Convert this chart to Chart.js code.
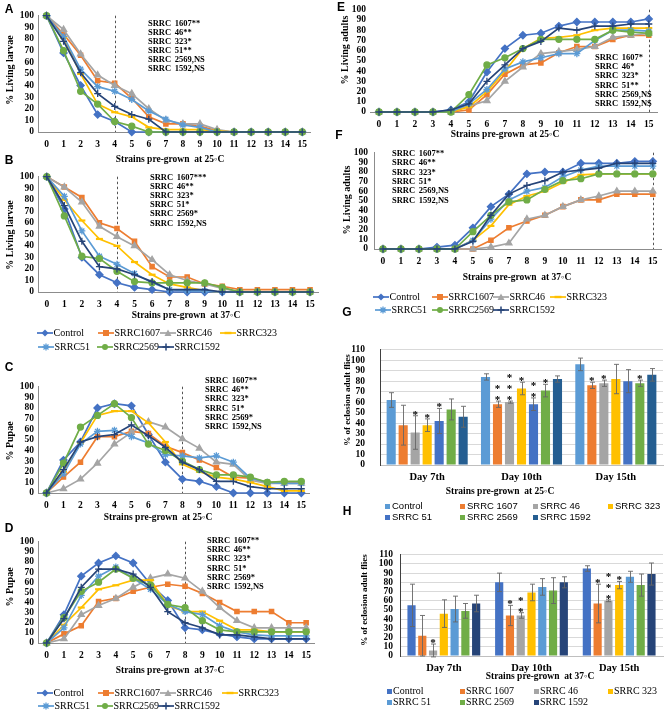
<!DOCTYPE html>
<html><head><meta charset="utf-8">
<script src="https://cdn.jsdelivr.net/npm/chart.js@4.4.1/dist/chart.umd.min.js"></script>
<style>
html,body{margin:0;padding:0;background:#fff;}
body{position:relative;width:669px;height:717px;overflow:hidden;}
</style></head>
<body>
<script>
// ---------------- DATA ----------------
const days = ['0','1','2','3','4','5','6','7','8','9','10','11','12','13','14','15'];
const lineNames = ['Control','SRRC1607','SRRC46','SRRC323','SRRC51','SRRC2569','SRRC1592'];
const barNames = ['Control','SRRC 1607','SRRC 46','SRRC 323','SRRC 51','SRRC 2569','SRRC 1592'];
const barDays = ['Day 7th','Day 10th','Day 15th'];

// A: % living larvae, strains pre-grown at 25C
const A_Control  = [100,68,40,15,9,0,0,0,0,0,0,0,0,0,0,0];
const A_SRRC1607 = [100,84,66,44,42,29,13,7,7,5,1,0,0,0,0,0];
const A_SRRC46   = [100,88,67,49,40,33,20,10,7,7,2,0,0,0,0,0];
const A_SRRC323  = [100,81,50,24,17,13,4,2,2,2,1,0,0,0,0,0];
const A_SRRC51   = [100,82,54,39,35,28,18,11,6,4,0,0,0,0,0,0];
const A_SRRC2569 = [100,70,35,24,9,5,0,0,0,0,0,0,0,0,0,0];
const A_SRRC1592 = [100,78,51,33,22,15,11,0,0,0,0,0,0,0,0,0];
const A_notes = ['SRRC 1607**','SRRC 46**','SRRC 323*','SRRC 51**','SRRC 2569,NS','SRRC 1592,NS'];

// B: % living larvae, 37C
const B_Control  = [100,72,30,15,8,4,2,0,0,0,0,0,0,0,0,0];
const B_SRRC1607 = [100,91,82,60,55,44,22,13,13,7,5,2,2,2,2,2];
const B_SRRC46   = [100,91,78,57,48,40,28,15,10,7,3,0,0,0,0,0];
const B_SRRC323  = [100,80,62,46,40,26,15,7,4,1,0,0,0,0,0,0];
const B_SRRC51   = [100,83,53,31,24,16,8,2,1,1,0,0,0,0,0,0];
const B_SRRC2569 = [100,66,31,29,18,9,8,8,8,8,4,0,0,0,0,0];
const B_SRRC1592 = [100,75,44,22,20,15,9,2,2,2,0,0,0,0,0,0];
const B_notes = ['SRRC 1607***','SRRC 46**','SRRC 323*','SRRC 51*','SRRC 2569*','SRRC 1592,NS'];

// C: % pupae, 25C
const C_Control  = [0,31,48,80,84,82,55,29,13,11,6,0,0,0,0,0];
const C_SRRC1607 = [0,15,29,53,53,58,56,44,38,31,24,15,14,10,10,10];
const C_SRRC46   = [0,4,13,28,46,57,67,62,51,42,29,27,12,9,9,9];
const C_SRRC323  = [0,20,47,73,77,77,66,48,27,20,15,13,10,6,2,2];
const C_SRRC51   = [0,18,46,58,59,53,47,36,35,33,35,29,14,10,9,9];
const C_SRRC2569 = [0,28,62,73,84,71,46,40,30,22,17,17,15,10,11,11];
const C_SRRC1592 = [0,22,48,53,55,64,54,43,29,22,11,11,6,4,4,4];
const C_notes = ['SRRC 1607**','SRRC 46**','SRRC 323*','SRRC 51*','SRRC 2569*','SRRC 1592,NS'];

// D: % pupae, 37C
const D_Control  = [0,28,66,79,86,79,58,42,15,13,9,6,4,4,4,4];
const D_SRRC1607 = [0,9,17,41,44,51,55,58,56,49,40,31,31,31,20,20];
const D_SRRC46   = [0,4,28,37,44,55,64,68,64,51,35,22,15,15,15,15];
const D_SRRC323  = [0,18,35,53,57,62,62,37,31,31,22,13,13,11,11,11];
const D_SRRC51   = [0,15,47,66,75,64,53,38,31,28,17,11,8,7,7,7];
const D_SRRC2569 = [0,25,51,60,73,64,57,38,35,22,13,11,11,11,11,11];
const D_SRRC1592 = [0,24,55,73,73,68,55,31,20,15,8,8,6,4,4,4];
const D_notes = ['SRRC 1607**','SRRC 46**','SRRC 323*','SRRC 51*','SRRC 2569*','SRRC 1592,NS'];

// E: % living adults, 25C
const E_Control  = [0,0,0,0,2,10,39,62,75,77,84,88,88,88,88,91];
const E_SRRC1607 = [0,0,0,0,0,2,17,37,46,48,58,64,64,71,75,75];
const E_SRRC46   = [0,0,0,0,0,6,11,30,44,57,59,61,64,73,75,77];
const E_SRRC323  = [0,0,0,0,0,5,20,40,62,72,73,75,80,82,82,82];
const E_SRRC51   = [0,0,0,0,0,8,22,42,49,53,57,57,70,80,80,79];
const E_SRRC2569 = [0,0,0,0,0,17,46,53,62,71,71,71,71,80,78,77];
const E_SRRC1592 = [0,0,0,0,2,8,30,46,62,69,82,80,84,84,86,86];
const E_notes = ['SRRC 1607*','SRRC 46*','SRRC 323*','SRRC 51**','SRRC 2569,NS','SRRC 1592,NS'];

// F: % living adults, 37C
const F_Control  = [0,0,0,2,4,22,44,57,78,80,80,89,89,89,91,91];
const F_SRRC1607 = [0,0,0,0,0,0,9,22,29,35,44,51,51,57,57,57];
const F_SRRC46   = [0,0,0,0,0,0,2,6,31,35,44,51,55,60,60,60];
const F_SRRC323  = [0,0,0,0,0,9,24,46,55,60,69,77,78,78,78,78];
const F_SRRC51   = [0,0,0,0,0,9,31,51,60,64,75,82,86,86,86,86];
const F_SRRC2569 = [0,0,0,0,0,18,35,49,51,62,71,73,78,78,78,78];
const F_SRRC1592 = [0,0,0,0,0,8,35,57,66,71,80,82,84,89,89,89];
const F_notes = ['SRRC 1607**','SRRC 46**','SRRC 323*','SRRC 51*','SRRC 2569,NS','SRRC 1592,NS'];

// G: % eclosion adult flies, 25C (order: Control,1607,46,323,51,2569,1592)
const G_day7       = [62,38,31,38,42,53,46];
const G_day7_err   = [7,19,16,6,12,10,10];
const G_day7_star  = [0,0,1,1,1,0,0];
const G_day10      = [84,58,60,73,58,71,82];
const G_day10_err  = [3,3,1,6,6,6,3];
const G_day10_star = [0,2,3,1,2,1,0];
const G_day15      = [96,76,78,82,80,78,86];
const G_day15_err  = [6,3,3,14,11,3,6];
const G_day15_star = [0,1,1,0,0,1,0];

// H: % eclosion adult flies, 37C
const H_day7       = [55,22,6,46,51,49,57];
const H_day7_err   = [23,22,7,15,14,8,9];
const H_day7_star  = [0,0,1,0,0,0,0];
const H_day10      = [80,44,44,69,75,71,80];
const H_day10_err  = [10,11,3,9,9,14,6];
const H_day10_star = [0,1,2,0,0,0,0];
const H_day15      = [95,57,60,77,86,77,89];
const H_day15_err  = [3,21,1,4,6,12,12];
const H_day15_star = [0,1,3,1,0,0,0];

// ---------------- STYLE ----------------
const SERIF = "'Liberation Serif','Times New Roman',serif";
const SANS = "'Liberation Sans',Arial,sans-serif";
const lineColors = ['#4472C4','#ED7D31','#A5A5A5','#FFC000','#5B9BD5','#70AD47','#264478'];
const lineStyles = ['rectRot','rect','triangle','line','star','circle','cross'];
const lineRadius = [3.5,3,3.5,3.5,3.5,3,3.5];
const gColors = ['#5B9BD5','#ED7D31','#A5A5A5','#FFC000','#4472C4','#70AD47','#255E91'];
const hColors = ['#4472C4','#ED7D31','#A5A5A5','#FFC000','#5B9BD5','#70AD47','#264478'];

Chart.defaults.font.family = SERIF;
Chart.defaults.color = '#000';

const vlinePlugin = {
  id: 'vline',
  beforeDatasetsDraw(chart, args, opts) {
    if (opts.x == null) return;
    const x = chart.scales.x.getPixelForValue(opts.x);
    const ca = chart.chartArea, ctx = chart.ctx;
    ctx.save();
    ctx.strokeStyle = '#555'; ctx.lineWidth = 1; ctx.setLineDash([2.5,2.5]);
    ctx.beginPath(); ctx.moveTo(Math.round(x)+0.5, ca.top); ctx.lineTo(Math.round(x)+0.5, ca.bottom); ctx.stroke();
    ctx.restore();
  }
};
const errPlugin = {
  id: 'errbars',
  afterDatasetsDraw(chart, args, opts) {
    if (!opts.on) return;
    const ctx = chart.ctx, ys = chart.scales.y;
    ctx.save();
    chart.data.datasets.forEach((ds, di) => {
      const meta = chart.getDatasetMeta(di);
      meta.data.forEach((bar, j) => {
        const v = ds.data[j], e = ds.err[j];
        const yt = ys.getPixelForValue(v + e), yb = ys.getPixelForValue(v - e);
        const x = Math.round(bar.x) + 0.5;
        ctx.strokeStyle = '#666'; ctx.lineWidth = 0.9; ctx.setLineDash([]);
        ctx.beginPath();
        ctx.moveTo(x, yt); ctx.lineTo(x, yb);
        ctx.moveTo(x - 2.5, yt); ctx.lineTo(x + 2.5, yt);
        ctx.moveTo(x - 2.5, yb); ctx.lineTo(x + 2.5, yb);
        ctx.stroke();
        const n = ds.stars[j];
        ctx.fillStyle = '#000';
        ctx.font = 'bold 11px ' + SERIF;
        ctx.textAlign = 'center'; ctx.textBaseline = 'middle';
        for (let k = 0; k < n; k++) {
          ctx.fillText('*', bar.x, yt - 1 - k * 11);
        }
      });
    });
    ctx.restore();
  }
};
Chart.register(vlinePlugin, errPlugin);

function addCanvas(area, yW, xH) {
  const pl = 2, pt = Math.min(8, area.T), pr = 6, pb = 2;
  const left = area.L - yW - pl, top = area.T - pt;
  const w = area.R + pr - left, h = area.B + xH + pb - top;
  const c = document.createElement('canvas');
  c.width = w; c.height = h;
  c.style.cssText = `position:absolute;left:${left}px;top:${top}px;width:${w}px;height:${h}px;`;
  document.body.appendChild(c);
  return {c, padding: {left: pl, top: pt, right: pr, bottom: pb}};
}

function lineChart(area, series, vx, opt = {}) {
  const yW = 30, xH = 22;
  const {c, padding} = addCanvas(area, yW, xH);
  const tickFont = {family: SERIF, size: 9.5, weight: 'bold'};
  new Chart(c, {
    type: 'line',
    data: {
      labels: days,
      datasets: series.map((d, i) => ({
        label: lineNames[i], data: d,
        borderColor: lineColors[i], backgroundColor: lineColors[i],
        pointBackgroundColor: lineColors[i], pointBorderColor: lineColors[i],
        borderWidth: 1.7, pointStyle: lineStyles[i], pointRadius: lineRadius[i],
        pointBorderWidth: (i === 3 ? 2.2 : 1.3), tension: 0, order: 10 - i, clip: false
      }))
    },
    options: {
      responsive: false, animation: false, events: [],
      layout: {padding},
      plugins: {legend: {display: false}, tooltip: {enabled: false}, vline: {x: vx}, errbars: {on: false}},
      scales: {
        x: {offset: true, grid: {display: false, drawTicks: false},
            border: {display: true, color: '#8c8c8c', width: 1},
            ticks: {font: tickFont, color: '#000', padding: 7, maxRotation: 0, autoSkip: false},
            afterFit(s) { s.height = xH; }},
        y: {min: 0, max: 100, grid: {display: false, drawTicks: false},
            border: {display: opt.noY ? false : true, color: '#8c8c8c', width: 1},
            ticks: {stepSize: 10, autoSkip: false, font: tickFont, color: '#000', padding: opt.yPad || 4},
            afterFit(s) { s.width = yW; }}
      }
    }
  });
}

function barChart(area, days7, days10, days15, errs, stars, colors, yPad, catPct) {
  const yW = 34, xH = 22;
  const {c, padding} = addCanvas(area, yW, xH);
  const tickFont = {family: SERIF, size: 9.5, weight: 'bold'};
  new Chart(c, {
    type: 'bar',
    data: {
      labels: barDays,
      datasets: barNames.map((n, i) => ({
        label: n, data: [days7[i], days10[i], days15[i]],
        err: [errs[0][i], errs[1][i], errs[2][i]],
        stars: [stars[0][i], stars[1][i], stars[2][i]],
        backgroundColor: colors[i], borderWidth: 0,
        categoryPercentage: catPct, barPercentage: 0.76
      }))
    },
    options: {
      responsive: false, animation: false, events: [],
      layout: {padding},
      plugins: {legend: {display: false}, tooltip: {enabled: false}, vline: {x: null}, errbars: {on: true}},
      scales: {
        x: {grid: {display: false, drawTicks: false},
            border: {display: true, color: '#bfbfbf', width: 1},
            ticks: {font: {family: SERIF, size: 10.5, weight: 'bold'}, color: '#000', padding: 6, maxRotation: 0},
            afterFit(s) { s.height = xH; }},
        y: {min: 0, max: 110, grid: {color: '#d9d9d9', drawTicks: false},
            border: {display: true, color: '#404040', width: 1},
            ticks: {stepSize: 10, autoSkip: false, font: tickFont, color: '#000', padding: yPad},
            afterFit(s) { s.width = yW; }}
      }
    }
  });
}

// ---------------- TEXT HELPERS ----------------
function txt(s, x, y, font, t) {
  const d = document.createElement('div');
  d.textContent = s;
  d.style.cssText = `position:absolute;left:${x}px;top:${y}px;font:${font};white-space:pre;line-height:1;color:#000;transform:${t || 'translate(0,-50%)'};`;
  document.body.appendChild(d);
  return d;
}
const C_ = 'translate(-50%,-50%)';
const R_ = 'translate(-50%,-50%) rotate(-90deg)';
function notes(list, x, y0, step) {
  list.forEach((s, i) => txt(s, x, y0 + i * step, `bold 8.5px ${SERIF}`).style.wordSpacing = '1.5px');
}
function markerSVG(i) {
  const col = lineColors[i], st = lineStyles[i];
  let m = '';
  const cx = 8, cy = 5;
  if (st === 'rectRot') m = `<polygon points="${cx},${cy-3.5} ${cx+3.5},${cy} ${cx},${cy+3.5} ${cx-3.5},${cy}" fill="${col}"/>`;
  else if (st === 'rect') m = `<rect x="${cx-3}" y="${cy-3}" width="6" height="6" fill="${col}"/>`;
  else if (st === 'triangle') m = `<polygon points="${cx},${cy-3.5} ${cx+3.5},${cy+3} ${cx-3.5},${cy+3}" fill="${col}"/>`;
  else if (st === 'line') m = `<line x1="${cx-3.5}" y1="${cy}" x2="${cx+3.5}" y2="${cy}" stroke="${col}" stroke-width="2.4"/>`;
  else if (st === 'star') m = `<path d="M${cx-3.5} ${cy}H${cx+3.5}M${cx} ${cy-3.5}V${cy+3.5}M${cx-2.5} ${cy-2.5}L${cx+2.5} ${cy+2.5}M${cx-2.5} ${cy+2.5}L${cx+2.5} ${cy-2.5}" stroke="${col}" stroke-width="1.3"/>`;
  else if (st === 'circle') m = `<circle cx="${cx}" cy="${cy}" r="3" fill="${col}"/>`;
  else if (st === 'cross') m = `<path d="M${cx-3.5} ${cy}H${cx+3.5}M${cx} ${cy-3.5}V${cy+3.5}" stroke="${col}" stroke-width="1.5"/>`;
  return `<svg width="16" height="10" viewBox="0 0 16 10" style="display:block"><line x1="0" y1="5" x2="16" y2="5" stroke="${col}" stroke-width="1.7"/>${m}</svg>`;
}
function lineLegend(xs, ys) {
  lineNames.forEach((n, i) => {
    const row = i < 4 ? 0 : 1;
    const x = xs[i], y = ys[row];
    const d = document.createElement('div');
    d.innerHTML = markerSVG(i);
    d.style.cssText = `position:absolute;left:${x}px;top:${y - 5}px;width:16px;height:10px;`;
    document.body.appendChild(d);
    txt(n, x + 16.5, y, `10px ${SERIF}`);
  });
}
function barLegend(xs, ys, colors, font, gap) {
  barNames.forEach((n, i) => {
    const row = i < 4 ? 0 : 1;
    const x = xs[i], y = ys[row];
    const d = document.createElement('div');
    d.style.cssText = `position:absolute;left:${x}px;top:${y - 2.5}px;width:5px;height:5px;background:${colors[i]};`;
    document.body.appendChild(d);
    txt(n, x + gap, y, font);
  });
}

// ---------------- BUILD ----------------
const aArea = {L: 38, R: 311, T: 14, B: 132};
const bArea = {L: 38, R: 319, T: 175, B: 292};
const cArea = {L: 38, R: 310, T: 385, B: 493};
const dArea = {L: 38, R: 315, T: 540, B: 643};
const eArea = {L: 370, R: 658, T: 6, B: 112};
const fArea = {L: 374, R: 662, T: 149, B: 249};
const gArea = {L: 380, R: 663, T: 337, B: 465};
const hArea = {L: 400, R: 663, T: 550, B: 656};

lineChart(aArea, [A_Control, A_SRRC1607, A_SRRC46, A_SRRC323, A_SRRC51, A_SRRC2569, A_SRRC1592], 4);
lineChart(bArea, [B_Control, B_SRRC1607, B_SRRC46, B_SRRC323, B_SRRC51, B_SRRC2569, B_SRRC1592], 4);
lineChart(cArea, [C_Control, C_SRRC1607, C_SRRC46, C_SRRC323, C_SRRC51, C_SRRC2569, C_SRRC1592], 8);
lineChart(dArea, [D_Control, D_SRRC1607, D_SRRC46, D_SRRC323, D_SRRC51, D_SRRC2569, D_SRRC1592], 8);
lineChart(eArea, [E_Control, E_SRRC1607, E_SRRC46, E_SRRC323, E_SRRC51, E_SRRC2569, E_SRRC1592], 15, {noY: true});
lineChart(fArea, [F_Control, F_SRRC1607, F_SRRC46, F_SRRC323, F_SRRC51, F_SRRC2569, F_SRRC1592], 15, {yPad: 6});
barChart(gArea, G_day7, G_day10, G_day15, [G_day7_err, G_day10_err, G_day15_err], [G_day7_star, G_day10_star, G_day15_star], gColors, 15, 0.89);
barChart(hArea, H_day7, H_day10, H_day15, [H_day7_err, H_day10_err, H_day15_err], [H_day7_star, H_day10_star, H_day15_star], hColors, 7, 0.86);

// panel letters
const LF = `bold 12px ${SANS}`;
txt('A', 9, 9, LF, C_); txt('B', 9, 160, LF, C_); txt('C', 9, 367, LF, C_); txt('D', 9, 528, LF, C_);
txt('E', 341, 7, LF, C_); txt('F', 339, 135, LF, C_); txt('G', 347, 312, LF, C_); txt('H', 347, 511, LF, C_);

// axis titles
const TF = `bold 10px ${SERIF}`;
const XF = `bold 9.5px ${SERIF}`;
txt('% Living larvae', 10, 70, TF, R_);
txt('Strains pre-grown  at 25◦C', 170, 160, XF, C_);
txt('% Living larvae', 10, 235, TF, R_);
txt('Strains pre-grown  at 37◦C', 186, 316, XF, C_);
txt('% Pupae', 10, 441, TF, R_);
txt('Strains pre-grown  at 25◦C', 158, 518, XF, C_);
txt('% Pupae', 10, 587, TF, R_);
txt('Strains pre-grown  at 37◦C', 170, 671, XF, C_);
txt('% Living adults', 345, 50, TF, R_);
txt('Strains pre-grown  at 25◦C', 505, 135, XF, C_);
txt('% Living adults', 347, 200, TF, R_);
txt('Strains pre-grown  at 37◦C', 517, 278, XF, C_);
txt('% of eclosion adult flies', 347, 400, `bold 9px ${SERIF}`, R_);
txt('Strains pre-grown  at 25◦C', 500, 492, XF, C_);
txt('% of eclosion adult flies', 364, 600, `bold 9px ${SERIF}`, R_);
txt('Strains pre-grown  at 37◦C', 540, 677, XF, C_);

// significance notes
notes(A_notes, 148, 23, 8.9);
notes(B_notes, 150, 177, 9.1);
notes(C_notes, 205, 380, 9.2);
notes(D_notes, 207, 540, 9.2);
notes(E_notes, 595, 57, 9.2);
notes(F_notes, 392, 153, 9.3);

// legends
lineLegend([37, 98, 160, 220, 38, 97, 158], [333, 347]);
lineLegend([37, 98, 160, 222, 38, 97, 158], [693, 706]);
lineLegend([373, 432, 493, 550, 375, 432, 493], [297, 310]);
barLegend([385, 460, 533, 608, 385, 460, 533], [506, 517], gColors, `9.5px ${SANS}`, 7);
barLegend([387, 460, 534, 608, 387, 460, 534], [691, 702], hColors, `10px ${SERIF}`, 6);
</script>
</body></html>
